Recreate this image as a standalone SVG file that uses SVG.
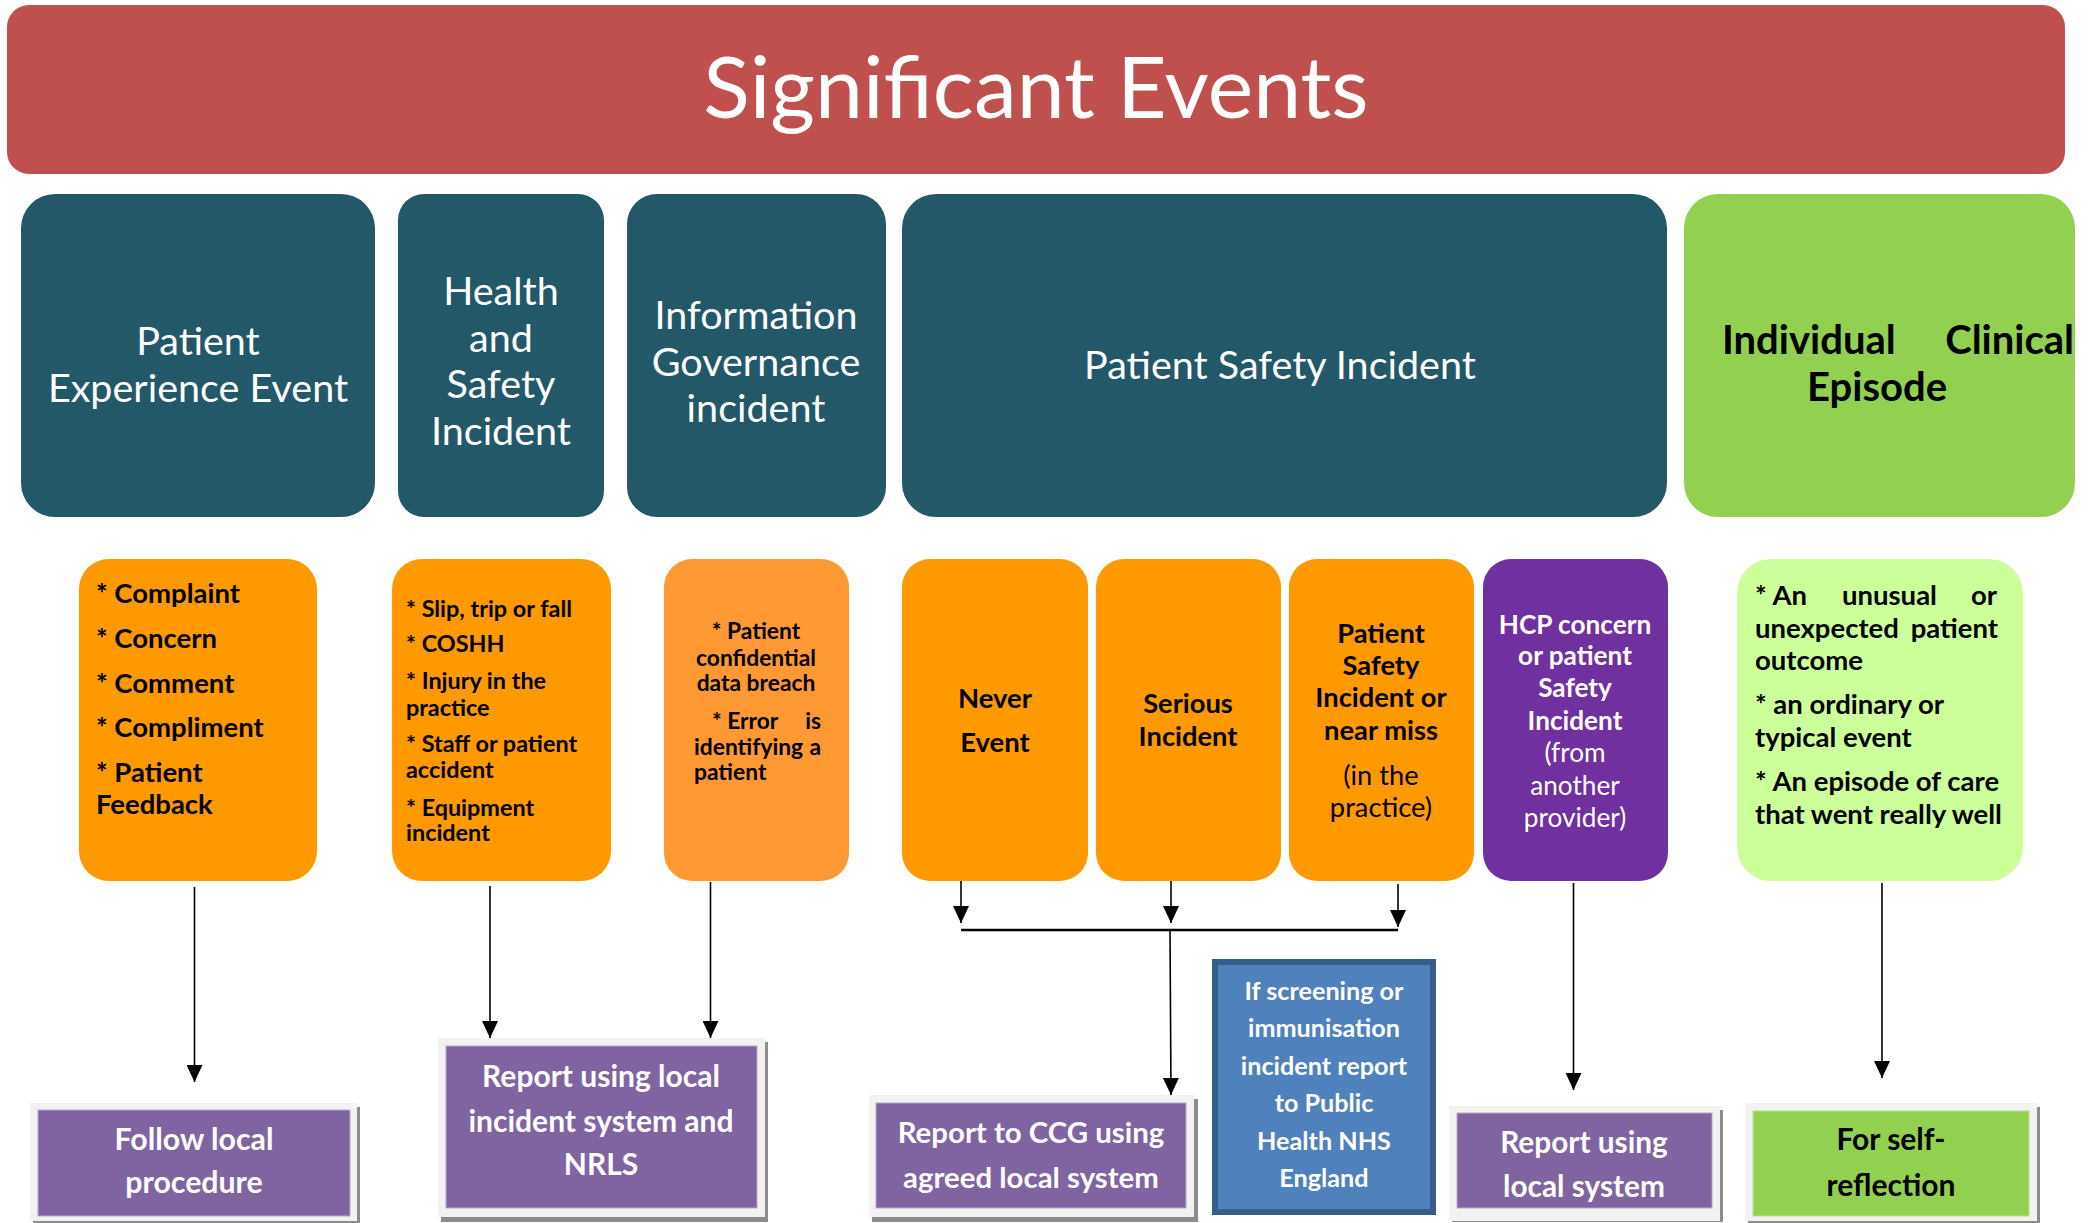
<svg xmlns="http://www.w3.org/2000/svg" width="2096" height="1223" viewBox="0 0 2096 1223">
  <defs>
    <marker id="arrow" markerUnits="userSpaceOnUse" markerWidth="18" markerHeight="16" refX="17" refY="8" orient="auto" viewBox="0 0 18 16">
      <path d="M0,0 L17,8 L0,16 Z" fill="#000"/>
    </marker>
    <style>
      text { font-family: Lato, "Open Sans", "Liberation Sans", sans-serif; }
      .title { fill: #fff; font-size: 86px; text-anchor: middle; }
      .cat { fill: #fff; font-size: 39.5px; text-anchor: middle; }
      .catb { fill: #000; font-size: 40px; font-weight: 700; }
      .item { fill: #000; font-weight: 700; }
      .mid { text-anchor: middle; }
      .end { text-anchor: end; }
      .wb { fill: #fff; font-weight: 700; }
      .wn { fill: #fff; }
      .bn { fill: #000; }
      .out { fill: #fff; font-weight: 700; text-anchor: middle; }
      .dark { fill: #000; }
      .teal { fill: #225868; }
      .orange { fill: #FF9900; }
      .frame { fill: #F2F2F2; }
      .shadow { fill: #8C8C8C; }
      .purple { fill: #8064A2; stroke: #B4A7C8; stroke-width: 1; }
      .conn { stroke: #000; stroke-width: 1.6; fill: none; }
    </style>
  </defs>

  <rect width="2096" height="1223" fill="#fff"/>

  <!-- banner -->
  <g id="banner">
    <rect x="7" y="5" width="2058" height="169" rx="22" fill="#C0504D"/>
    <text class="title" x="1036" y="118">Significant Events</text>
  </g>

  <!-- category headers -->
  <g id="patient-experience-event">
    <rect class="teal" x="21" y="194" width="354" height="323" rx="34"/>
    <text class="cat" x="198" y="355">Patient</text>
    <text class="cat" x="198" y="402">Experience Event</text>
  </g>
  <g id="health-and-safety-incident">
    <rect class="teal" x="398" y="194" width="206" height="323" rx="26"/>
    <text class="cat" x="501" y="305">Health</text>
    <text class="cat" x="501" y="352">and</text>
    <text class="cat" x="501" y="398">Safety</text>
    <text class="cat" x="501" y="445">Incident</text>
  </g>
  <g id="information-governance-incident">
    <rect class="teal" x="627" y="194" width="259" height="323" rx="30"/>
    <text class="cat" x="756" y="329">Information</text>
    <text class="cat" x="756" y="376">Governance</text>
    <text class="cat" x="756" y="422">incident</text>
  </g>
  <g id="patient-safety-incident">
    <rect class="teal" x="902" y="194" width="765" height="323" rx="34"/>
    <text class="cat" x="1280" y="379">Patient Safety Incident</text>
  </g>
  <g id="individual-clinical-episode">
    <rect x="1684" y="194" width="391" height="323" rx="34" fill="#92D050"/>
    <text class="catb" x="1722" y="354">Individual</text>
    <text class="catb end" x="2074" y="354">Clinical</text>
    <text class="catb mid" x="1877" y="401">Episode</text>
  </g>

  <!-- detail boxes -->
  <g id="experience-types" class="item" font-size="27.5">
    <rect class="orange" x="79" y="559" width="238" height="322" rx="30"/>
    <text x="96" y="603">* Complaint</text>
    <text x="96" y="648">* Concern</text>
    <text x="96" y="693">* Comment</text>
    <text x="96" y="737">* Compliment</text>
    <text x="96" y="782">* Patient</text>
    <text x="96" y="814">Feedback</text>
  </g>
  <g id="health-safety-types" class="item" font-size="23.4">
    <rect class="orange" x="392" y="559" width="219" height="322" rx="30"/>
    <text x="406" y="617">* Slip, trip or fall</text>
    <text x="406" y="652">* COSHH</text>
    <text x="406" y="689">* Injury in the</text>
    <text x="406" y="716">practice</text>
    <text x="406" y="752">* Staff or patient</text>
    <text x="406" y="778">accident</text>
    <text x="406" y="816">* Equipment</text>
    <text x="406" y="841">incident</text>
  </g>
  <g id="governance-types" class="item" font-size="22.8">
    <rect x="664" y="559" width="185" height="322" rx="28" fill="#FF9933"/>
    <text class="mid" x="756" y="639">* Patient</text>
    <text class="mid" x="756" y="666">confidential</text>
    <text class="mid" x="756" y="691">data breach</text>
    <text x="712" y="729">* Error</text>
    <text class="end" x="821" y="729">is</text>
    <text x="694" y="755">identifying</text>
    <text class="end" x="821" y="755">a</text>
    <text x="694" y="780">patient</text>
  </g>
  <g id="never-event" class="item mid" font-size="27.5">
    <rect class="orange" x="902" y="559" width="186" height="322" rx="28"/>
    <text x="995" y="708">Never</text>
    <text x="995" y="752">Event</text>
  </g>
  <g id="serious-incident" class="item mid" font-size="27.3">
    <rect class="orange" x="1096" y="559" width="185" height="322" rx="28"/>
    <text x="1188" y="713">Serious</text>
    <text x="1188" y="746">Incident</text>
  </g>
  <g id="practice-incident" class="mid" font-size="27.3">
    <rect class="orange" x="1289" y="559" width="185" height="322" rx="28"/>
    <text class="item" x="1381" y="643">Patient</text>
    <text class="item" x="1381" y="675">Safety</text>
    <text class="item" x="1381" y="707">Incident or</text>
    <text class="item" x="1381" y="740">near miss</text>
    <text class="bn" x="1381" y="785">(in the</text>
    <text class="bn" x="1381" y="817">practice)</text>
  </g>
  <g id="hcp-concern" class="mid" font-size="26.2">
    <rect x="1483" y="559" width="185" height="322" rx="28" fill="#7030A0"/>
    <text class="wb" x="1575" y="634">HCP concern</text>
    <text class="wb" x="1575" y="665">or patient</text>
    <text class="wb" x="1575" y="697">Safety</text>
    <text class="wb" x="1575" y="730">Incident</text>
    <text class="wn" x="1575" y="762">(from</text>
    <text class="wn" x="1575" y="795">another</text>
    <text class="wn" x="1575" y="827">provider)</text>
  </g>
  <g id="clinical-episode-types" class="item" font-size="27.5">
    <rect x="1737" y="559" width="286" height="322" rx="34" fill="#CCFF99"/>
    <text x="1755" y="605">* An</text>
    <text x="1842" y="605">unusual</text>
    <text class="end" x="1997" y="605">or</text>
    <text x="1755" y="638">unexpected</text>
    <text class="end" x="1998" y="638">patient</text>
    <text x="1755" y="670">outcome</text>
    <text x="1755" y="714">* an ordinary or</text>
    <text x="1755" y="747">typical event</text>
    <text x="1755" y="791">* An episode of care</text>
    <text x="1755" y="824">that went really well</text>
  </g>

  <!-- outcome boxes -->
  <g id="follow-local-procedure" font-size="30.3">
    <rect class="shadow" x="33" y="1107" width="327" height="116"/>
    <rect class="frame" x="30" y="1103" width="327" height="118"/>
    <rect class="purple" x="38" y="1110" width="312" height="106"/>
    <text class="out" x="194" y="1150">Follow local</text>
    <text class="out" x="194" y="1193">procedure</text>
  </g>
  <g id="report-local-nrls" font-size="30">
    <rect class="shadow" x="441" y="1042" width="327" height="180"/>
    <rect class="frame" x="438" y="1038" width="327" height="179"/>
    <rect class="purple" x="446" y="1046" width="311" height="162"/>
    <text class="out" x="601" y="1087">Report using local</text>
    <text class="out" x="601" y="1132">incident system and</text>
    <text class="out" x="601" y="1175">NRLS</text>
  </g>
  <g id="report-ccg" font-size="29.4">
    <rect class="shadow" x="872" y="1099" width="326" height="123"/>
    <rect class="frame" x="869" y="1095" width="325" height="122"/>
    <rect class="purple" x="876" y="1103" width="310" height="105"/>
    <text class="out" x="1031" y="1143">Report to CCG using</text>
    <text class="out" x="1031" y="1188">agreed local system</text>
  </g>
  <g id="public-health-report" font-size="25.2">
    <rect x="1215" y="962" width="218" height="250" fill="#4F81BD" stroke="#385D8A" stroke-width="6"/>
    <text class="out" x="1324" y="1000">If screening or</text>
    <text class="out" x="1324" y="1037">immunisation</text>
    <text class="out" x="1324" y="1075">incident report</text>
    <text class="out" x="1324" y="1112">to Public</text>
    <text class="out" x="1324" y="1150">Health NHS</text>
    <text class="out" x="1324" y="1187">England</text>
  </g>
  <g id="report-local-system" font-size="29.8">
    <rect class="shadow" x="1452" y="1110" width="271" height="112"/>
    <rect class="frame" x="1449" y="1106" width="271" height="115"/>
    <rect class="purple" x="1457" y="1113" width="255" height="95"/>
    <text class="out" x="1584" y="1153">Report using</text>
    <text class="out" x="1584" y="1197">local system</text>
  </g>
  <g id="self-reflection" font-size="30">
    <rect class="shadow" x="1748" y="1107" width="292" height="116"/>
    <rect class="frame" x="1745" y="1103" width="292" height="118"/>
    <rect x="1753" y="1111" width="276" height="105" fill="#92D050" stroke="#B9E08E" stroke-width="1"/>
    <text class="out dark" x="1891" y="1150">For self-</text>
    <text class="out dark" x="1891" y="1196">reflection</text>
  </g>

  <!-- connectors -->
  <g id="connectors" class="conn">
    <line x1="194.5" y1="887" x2="194.5" y2="1082" marker-end="url(#arrow)"/>
    <line x1="490" y1="886" x2="490" y2="1038" marker-end="url(#arrow)"/>
    <line x1="710.5" y1="882" x2="710.5" y2="1038" marker-end="url(#arrow)"/>
    <line x1="961" y1="881" x2="961" y2="923" marker-end="url(#arrow)"/>
    <line x1="1171" y1="881" x2="1171" y2="923" marker-end="url(#arrow)"/>
    <line x1="1398" y1="884" x2="1398" y2="927" marker-end="url(#arrow)"/>
    <line x1="961" y1="930" x2="1398" y2="930" stroke-width="2.6"/>
    <line x1="1170" y1="930" x2="1171" y2="1095" marker-end="url(#arrow)"/>
    <line x1="1573.5" y1="883" x2="1573.5" y2="1090" marker-end="url(#arrow)"/>
    <line x1="1882" y1="883" x2="1882" y2="1078" marker-end="url(#arrow)"/>
  </g>
</svg>
